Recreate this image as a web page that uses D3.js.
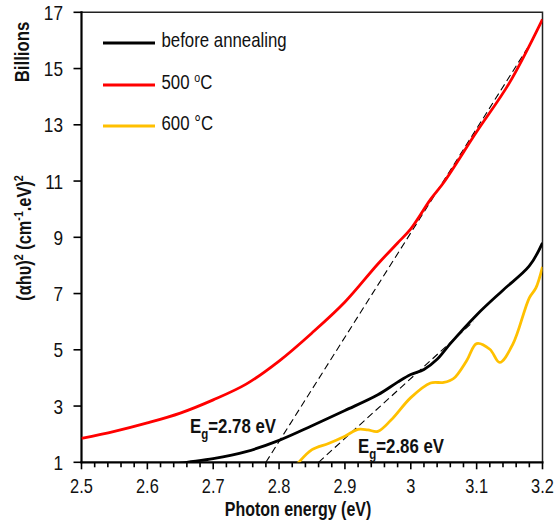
<!DOCTYPE html>
<html>
<head>
<meta charset="utf-8">
<script src="https://cdn.jsdelivr.net/npm/d3@7"></script>
<style>
  body { margin: 0; background: #fff; }
  svg { display: block; font-family: "Liberation Sans", Arial, sans-serif; }
</style>
</head>
<body>
<svg id="chart" width="554" height="520"></svg>
<script>
// photon energy (eV) -> (ahv)^2 in billions
const beforeE = [2.60, 2.65, 2.70, 2.75, 2.80, 2.85, 2.90, 2.95, 2.98, 3.00, 3.02, 3.04, 3.06, 3.10, 3.14, 3.18, 3.20];
const beforeV = [0.75, 0.97, 1.13, 1.38, 1.78, 2.30, 2.84, 3.40, 3.85, 4.12, 4.30, 4.66, 5.22, 6.24, 7.12, 7.98, 8.80];

const c500E = [2.50, 2.55, 2.60, 2.65, 2.70, 2.75, 2.80, 2.85, 2.90, 2.95, 2.98, 3.00, 3.03, 3.05, 3.10, 3.15, 3.20];
const c500V = [1.85, 2.10, 2.40, 2.75, 3.22, 3.78, 4.60, 5.60, 6.70, 8.05, 8.80, 9.30, 10.35, 10.95, 12.75, 14.50, 16.75];

const c600E = [2.82, 2.83, 2.85, 2.875, 2.90, 2.92, 2.935, 2.95, 2.97, 3.00, 3.03, 3.05, 3.065, 3.085, 3.10, 3.12, 3.135, 3.155, 3.18, 3.19, 3.20];
const c600V = [0.70, 1.00, 1.45, 1.67, 1.93, 2.17, 2.15, 2.10, 2.50, 3.30, 3.82, 3.84, 3.98, 4.62, 5.22, 5.02, 4.55, 5.20, 6.85, 7.20, 7.95];

// tangent (Tauc) lines
const tangent500 = [[2.78, 1], [3.177, 15.72]];
const tangentBefore = [[2.86, 1], [3.095, 6.0]];

const xTicks = [2.5, 2.6, 2.7, 2.8, 2.9, 3.0, 3.1, 3.2];
const yTicks = [1, 3, 5, 7, 9, 11, 13, 15, 17];

const seriesNames = ["before annealing", "500 ", "600 °C"];
const seriesColors = ["#000000", "#ff0000", "#ffc000"];

const svg = d3.select("#chart");

const x = d3.scaleLinear().domain([2.5, 3.2]).range([81.5, 542.5]);
const y = d3.scaleLinear().domain([1, 17]).range([462.3, 12.3]);

const SX = 0.82; // glyphs in the reference are narrow/tall

function label(g, px, py, rot) {
    return g.append("text")
    .attr("transform", `translate(${px},${py})${rot ? " rotate(-90)" : ""} scale(${SX},1)`);
}

// clip
svg.append("clipPath").attr("id", "plot-clip")
.append("rect")
.attr("x", x(2.5)).attr("y", y(17))
.attr("width", x(3.2) - x(2.5)).attr("height", y(1) - y(17));

// frame (top / right)
svg.append("path")
.attr("d", `M${x(2.5)},${y(17)}H${x(3.2)}V${y(1)}`)
.attr("fill", "none")
.attr("stroke", "#222")
.attr("stroke-width", 1.5);

// x axis
const xAxis = svg.append("g");

xAxis.append("line")
.attr("x1", x(2.5) - 1).attr("x2", x(3.2) + 1)
.attr("y1", y(1)).attr("y2", y(1))
.attr("stroke", "#000").attr("stroke-width", 2.2);

const minor = d3.range(0, 36).map(i => 2.5 + i * 0.02);
xAxis.selectAll(".minor")
.data(minor)
.enter()
.append("line")
.attr("x1", d => x(d)).attr("x2", d => x(d))
.attr("y1", y(1)).attr("y2", d => y(1) + (Math.abs(d * 10 - Math.round(d * 10)) < 1e-6 ? 7 : 5))
.attr("stroke", "#000").attr("stroke-width", 1.6);

xTicks.forEach(t => {
    label(xAxis, x(t), y(1) + 30.5, false)
    .attr("text-anchor", "middle")
    .attr("font-size", 20)
    .attr("fill", "#111")
    .text(String(t));
});

label(xAxis, 298, 516, false)
.attr("text-anchor", "middle")
.attr("font-size", 19.5)
.attr("font-weight", "bold")
.attr("fill", "#111")
.text("Photon energy (eV)");

// y axis
const yAxis = svg.append("g");

yAxis.append("line")
.attr("x1", x(2.5)).attr("x2", x(2.5))
.attr("y1", y(17) - 1).attr("y2", y(1) + 1)
.attr("stroke", "#000").attr("stroke-width", 2.2);

yAxis.selectAll(".tick")
.data(yTicks)
.enter()
.append("line")
.attr("x1", x(2.5) - 8).attr("x2", x(2.5))
.attr("y1", d => y(d)).attr("y2", d => y(d))
.attr("stroke", "#000").attr("stroke-width", 1.6);

yTicks.forEach(t => {
    label(yAxis, 63, y(t) + 7.5, false)
    .attr("text-anchor", "end")
    .attr("font-size", 21)
    .attr("fill", "#111")
    .text(String(t));
});

label(yAxis, 28.5, 52, true)
.attr("text-anchor", "middle")
.attr("font-size", 20.5)
.attr("font-weight", "bold")
.attr("fill", "#111")
.text("Billions");

const yl = label(yAxis, 31, 238, true)
.attr("text-anchor", "middle")
.attr("font-size", 20)
.attr("font-weight", "bold")
.attr("fill", "#111");
yl.append("tspan").text("(αhυ)");
yl.append("tspan").attr("font-size", 13).attr("dy", -8).text("2");
yl.append("tspan").attr("dy", 8).text(" (cm");
yl.append("tspan").attr("font-size", 13).attr("dy", -8).text("-1");
yl.append("tspan").attr("dy", 8).text(".eV)");
yl.append("tspan").attr("font-size", 13).attr("dy", -8).text("2");

// curves
const plot = svg.append("g").attr("clip-path", "url(#plot-clip)");

const line = d3.line()
.x(d => x(d[0]))
.y(d => y(d[1]))
.curve(d3.curveCatmullRom.alpha(0.5));

const straight = d3.line().x(d => x(d[0])).y(d => y(d[1]));

[tangent500, tangentBefore].forEach(t => {
    plot.append("path")
    .attr("d", straight(t))
    .attr("fill", "none")
    .attr("stroke", "#000")
    .attr("stroke-width", 1.1)
    .attr("stroke-dasharray", "7,4");
});

const series = [
    d3.zip(beforeE, beforeV),
    d3.zip(c500E, c500V),
    d3.zip(c600E, c600V)
];

// draw 600 first, then before, then 500 on top
[2, 0, 1].forEach(i => {
    plot.append("path")
    .attr("d", line(series[i]))
    .attr("fill", "none")
    .attr("stroke", seriesColors[i])
    .attr("stroke-width", 2.8)
    .attr("stroke-linejoin", "round");
});

// legend
const legend = svg.append("g");
const legendY = [43, 85, 126];

seriesNames.forEach((name, i) => {
    legend.append("line")
    .attr("x1", 103).attr("x2", 155)
    .attr("y1", legendY[i]).attr("y2", legendY[i])
    .attr("stroke", seriesColors[i])
    .attr("stroke-width", 2.8);

    const t = label(legend, 161.5, legendY[i] + 3.5, false)
    .attr("font-size", 20.5)
    .attr("fill", "#111")
    .text(name);

    if (i === 1) {
        t.append("tspan").attr("font-size", 13).attr("dy", -7).text("o");
        t.append("tspan").attr("dy", 7).text("C");
    }
});

// band gap annotations
function eg(px, py, val) {
    const t = label(svg, px, py, false)
    .attr("font-size", 20.5)
    .attr("font-weight", "bold")
    .attr("fill", "#111");
    t.append("tspan").text("E");
    t.append("tspan").attr("font-size", 14).attr("dy", 6).text("g");
    t.append("tspan").attr("dy", -6).text(`=${val} eV`);
}

eg(190, 433, "2.78");
eg(358, 452.5, "2.86");
</script>
</body>
</html>
